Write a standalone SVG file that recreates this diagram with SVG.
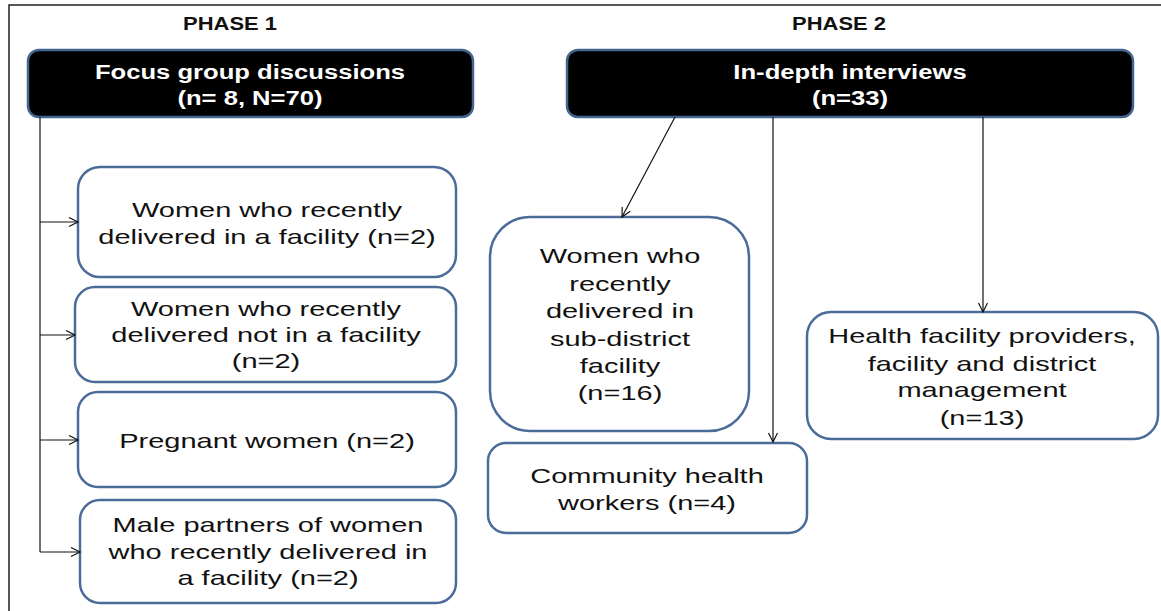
<svg xmlns="http://www.w3.org/2000/svg" width="1161" height="611" viewBox="0 0 1161 611">
  <style>
    .frame { stroke: #222; stroke-width: 1.5; fill: none; }
    .head { fill: #000; stroke: #44658f; stroke-width: 2.5; }
    .box { fill: #fff; stroke: #4b6b98; stroke-width: 2.5; }
    .phase { font-family: "Liberation Sans", Arial, sans-serif; font-weight: bold; font-size: 18px; fill: #111; text-anchor: middle; }
    .htxt { font-family: "Liberation Sans", Arial, sans-serif; font-weight: bold; font-size: 20px; fill: #fff; text-anchor: middle; }
    .txt { font-family: "Liberation Sans", Arial, sans-serif; font-size: 20px; fill: #111; text-anchor: middle; }
    .link { stroke: #111; stroke-width: 1.2; fill: none; marker-end: url(#arrow); }
    .trunk { stroke: #111; stroke-width: 1.2; fill: none; }
  </style>
  <defs>
    <marker id="arrow" markerUnits="userSpaceOnUse" markerWidth="12" markerHeight="12" refX="10" refY="5" orient="auto">
      <path d="M1,0.5 L10,5 L1,9.5" fill="none" stroke="#111" stroke-width="1.2"/>
    </marker>
  </defs>

  <rect width="1161" height="611" fill="#fff"/>
  <!-- outer frame (top and left edges) -->
  <path class="frame" d="M9,611 V5 H1161"/>

  <!-- phase headings -->
  <text class="phase" transform="translate(230,0) scale(1.22,1)" x="0" y="30">PHASE 1</text>
  <text class="phase" transform="translate(839,0) scale(1.22,1)" x="0" y="30">PHASE 2</text>

  <g id="fgd">
    <rect class="head" x="28" y="50" width="445" height="67" rx="11"/>
    <text class="htxt" transform="translate(250,0) scale(1.28,1)"><tspan x="0" y="79">Focus group discussions</tspan><tspan x="0" y="105">(n= 8, N=70)</tspan></text>
  </g>

  <g id="idi">
    <rect class="head" x="567" y="50" width="566" height="67" rx="11"/>
    <text class="htxt" transform="translate(850,0) scale(1.28,1)"><tspan x="0" y="79">In-depth interviews</tspan><tspan x="0" y="105">(n=33)</tspan></text>
  </g>

  <g id="women-facility">
    <rect class="box" x="78" y="167" width="378" height="110" rx="22"/>
    <text class="txt" transform="translate(267,0) scale(1.45,1)"><tspan x="0" y="217">Women who recently</tspan><tspan x="0" y="244">delivered in a facility (n=2)</tspan></text>
  </g>

  <g id="women-not-facility">
    <rect class="box" x="75" y="287" width="381" height="95" rx="20"/>
    <text class="txt" transform="translate(266,0) scale(1.45,1)"><tspan x="0" y="316">Women who recently</tspan><tspan x="0" y="342">delivered not in a facility</tspan><tspan x="0" y="368">(n=2)</tspan></text>
  </g>

  <g id="pregnant">
    <rect class="box" x="78" y="392" width="378" height="95" rx="20"/>
    <text class="txt" transform="translate(267,0) scale(1.45,1)"><tspan x="0" y="448">Pregnant women (n=2)</tspan></text>
  </g>

  <g id="male-partners">
    <rect class="box" x="80" y="500" width="376" height="103" rx="20"/>
    <text class="txt" transform="translate(268,0) scale(1.45,1)"><tspan x="0" y="532">Male partners of women</tspan><tspan x="0" y="559">who recently delivered in</tspan><tspan x="0" y="585">a facility (n=2)</tspan></text>
  </g>

  <g id="women-subdistrict">
    <rect class="box" x="490" y="217" width="259" height="214" rx="40"/>
    <text class="txt" transform="translate(620,0) scale(1.45,1)"><tspan x="0" y="263">Women who</tspan><tspan x="0" y="291">recently</tspan><tspan x="0" y="318">delivered in</tspan><tspan x="0" y="346">sub-district</tspan><tspan x="0" y="373">facility</tspan><tspan x="0" y="400">(n=16)</tspan></text>
  </g>

  <g id="chw">
    <rect class="box" x="488" y="443" width="319" height="90" rx="18"/>
    <text class="txt" transform="translate(647,0) scale(1.45,1)"><tspan x="0" y="483">Community health</tspan><tspan x="0" y="510">workers (n=4)</tspan></text>
  </g>

  <g id="providers">
    <rect class="box" x="807" y="312" width="351" height="127" rx="24"/>
    <text class="txt" transform="translate(982,0) scale(1.45,1)"><tspan x="0" y="343">Health facility providers,</tspan><tspan x="0" y="371">facility and district</tspan><tspan x="0" y="397">management</tspan><tspan x="0" y="425">(n=13)</tspan></text>
  </g>

  <g id="connectors">
    <path class="trunk" d="M40,117 V552"/>
    <path class="link" d="M40,222 H78"/>
    <path class="link" d="M40,335 H75"/>
    <path class="link" d="M40,440 H78"/>
    <path class="link" d="M40,552 H80"/>
    <path class="link" d="M675,117 L622,217"/>
    <path class="link" d="M773,117 V442"/>
    <path class="link" d="M983,117 V312"/>
  </g>
</svg>
